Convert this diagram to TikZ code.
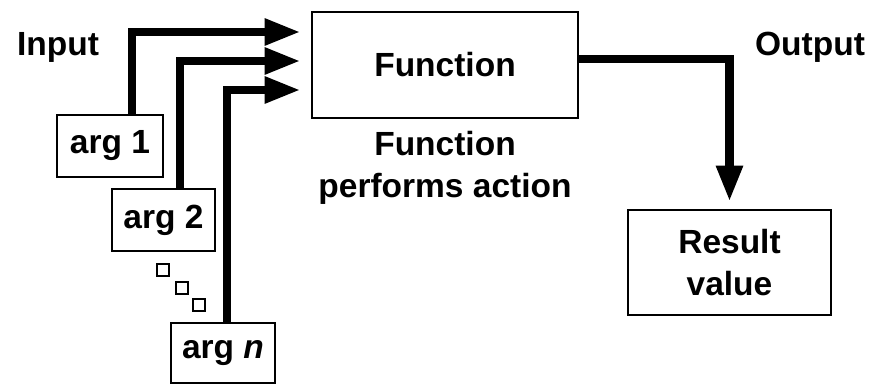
\documentclass[tikz,border=0pt]{standalone}
\usepackage{fontspec}
\setmainfont{Liberation Sans}
\usetikzlibrary{arrows.meta}
\begin{document}
\begin{tikzpicture}[x=1pt,y=-1pt,
  every node/.style={font=\fontsize{33.5}{42}\selectfont\bfseries},
  box/.style={draw,line width=2.8pt,inner sep=0pt,align=center},
  lbl/.style={inner sep=0pt,align=center},
  dot/.style={draw,line width=2.4pt,minimum width=12pt,minimum height=12pt,inner sep=0pt},
  conn/.style={line width=8.5pt,-{Triangle[length=36pt,width=25pt]}}
]
\useasboundingbox (0,0) rectangle (870,385);
\node[box,minimum width=266pt,minimum height=106pt] (func) at (445,65) {Function};
\node[lbl] (act) at (445,168) {Function\\performs action};
\node[lbl] (in) at (58,47) {Input};
\node[lbl] (out) at (810,47) {Output};
\node[box,minimum width=106pt,minimum height=62pt] (a1) at (110,146) {arg 1};
\node[box,minimum width=103pt,minimum height=62pt] (a2) at (163.5,220) {arg 2};
\node[box,minimum width=104pt,minimum height=60pt] (an) at (223,353) {arg \textit{n}};
\node[dot] (d1) at (163,270) {};
\node[dot] (d2) at (182,288) {};
\node[dot] (d3) at (199,305) {};
\node[box,minimum width=203pt,minimum height=105pt] (res) at (729.5,262.5) {Result\\value};
\draw[conn,shorten >=10pt] ([xshift=22pt]a1.north) |- ([yshift=33pt]func.west);
\draw[conn,shorten >=10pt] ([xshift=16.5pt]a2.north) |- ([yshift=4pt]func.west);
\draw[conn,shorten >=10pt] ([xshift=4pt]an.north) |- ([yshift=-25pt]func.west);
\draw[conn,shorten >=7pt] ([yshift=6pt]func.east) -| (res.north);
\end{tikzpicture}
\end{document}
